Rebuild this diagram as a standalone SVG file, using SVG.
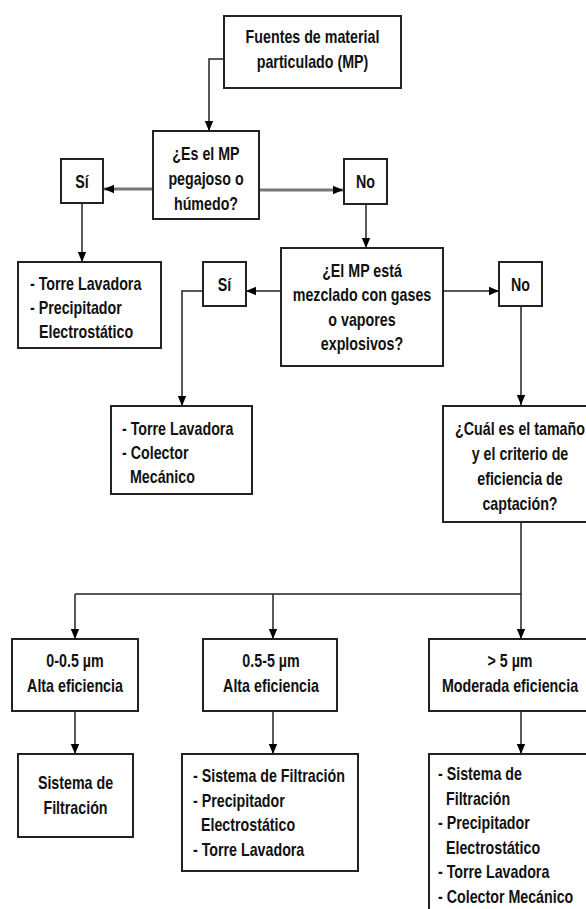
<svg xmlns="http://www.w3.org/2000/svg" width="586" height="909" viewBox="0 0 586 909">
<style>
.box{fill:#fff;stroke:#222;stroke-width:2}
.t{font-family:"Liberation Sans",Arial,sans-serif;font-size:19px;font-weight:bold;fill:#111}
.c{text-anchor:middle}
.ln{fill:none;stroke:#222;stroke-width:1.5}
.gl{fill:none;stroke:#777;stroke-width:3}
</style>
<defs>
<marker id="ah" markerUnits="userSpaceOnUse" markerWidth="10" markerHeight="10" viewBox="0 0 10 10" refX="10" refY="5" orient="auto">
<path d="M0,0.8 L10,5 L0,9.2 Z" fill="#000"/>
</marker>
</defs>
<rect width="586" height="909" fill="#fff"/>
<g id="connectors">
<path class="ln" d="M224,59 H209 V131" marker-end="url(#ah)"/>
<path class="gl" d="M153,189 H104" marker-end="url(#ah)"/>
<path class="gl" d="M259,190 H343" marker-end="url(#ah)"/>
<path class="ln" d="M82,203 V262" marker-end="url(#ah)"/>
<path class="ln" d="M366,204 V248" marker-end="url(#ah)"/>
<path class="ln" d="M281,291 H246" marker-end="url(#ah)"/>
<path class="ln" d="M443,291 H499" marker-end="url(#ah)"/>
<path class="ln" d="M203,291 H182 V406" marker-end="url(#ah)"/>
<path class="ln" d="M521,306 V405" marker-end="url(#ah)"/>
<path class="ln" d="M521,522 V639" marker-end="url(#ah)"/>
<path class="ln" d="M75,594 H521"/>
<path class="ln" d="M75,594 V639" marker-end="url(#ah)"/>
<path class="ln" d="M273,594 V639" marker-end="url(#ah)"/>
<path class="ln" d="M75,711 V754" marker-end="url(#ah)"/>
<path class="ln" d="M273,711 V754" marker-end="url(#ah)"/>
<path class="ln" d="M521,711 V754" marker-end="url(#ah)"/>
</g>
<g id="fuentes">
<rect class="box" x="224" y="16" width="177" height="72"/>
<g transform="scale(0.75 1)">
<text class="t c" x="416.67" y="43">Fuentes de material</text>
<text class="t c" x="416.67" y="68">particulado (MP)</text>
</g>
</g>
<g id="pegajoso">
<rect class="box" x="153" y="131" width="106" height="88"/>
<g transform="scale(0.75 1)">
<text class="t c" x="274.67" y="160">¿Es el MP</text>
<text class="t c" x="274.67" y="185">pegajoso o</text>
<text class="t c" x="274.67" y="210">húmedo?</text>
</g>
</g>
<g id="si1">
<rect class="box" x="61" y="159" width="42" height="44"/>
<g transform="scale(0.75 1)">
<text class="t c" x="109.33" y="188">Sí</text>
</g>
</g>
<g id="no1">
<rect class="box" x="344" y="159" width="43" height="45"/>
<g transform="scale(0.75 1)">
<text class="t c" x="487.33" y="188">No</text>
</g>
</g>
<g id="res1">
<rect class="box" x="18" y="262" width="143" height="86"/>
<g transform="scale(0.75 1)">
<text class="t" x="40" y="290">- Torre Lavadora</text>
<text class="t" x="40" y="314">- Precipitador</text>
<text class="t" x="52" y="338">Electrostático</text>
</g>
</g>
<g id="mezclado">
<rect class="box" x="281" y="248" width="162" height="118"/>
<g transform="scale(0.75 1)">
<text class="t c" x="482.67" y="277">¿El MP está</text>
<text class="t c" x="482.67" y="301">mezclado con gases</text>
<text class="t c" x="482.67" y="326">o vapores</text>
<text class="t c" x="482.67" y="350">explosivos?</text>
</g>
</g>
<g id="si2">
<rect class="box" x="203" y="262" width="43" height="44"/>
<g transform="scale(0.75 1)">
<text class="t c" x="299.33" y="291">Sí</text>
</g>
</g>
<g id="no2">
<rect class="box" x="499" y="262" width="43" height="44"/>
<g transform="scale(0.75 1)">
<text class="t c" x="694" y="291">No</text>
</g>
</g>
<g id="res2">
<rect class="box" x="111" y="406" width="141" height="88"/>
<g transform="scale(0.75 1)">
<text class="t" x="162.67" y="435">- Torre Lavadora</text>
<text class="t" x="162.67" y="459">- Colector</text>
<text class="t" x="173.33" y="483">Mecánico</text>
</g>
</g>
<g id="tamano">
<rect class="box" x="443" y="406" width="160" height="116"/>
<g transform="scale(0.75 1)">
<text class="t c" x="693.33" y="435">¿Cuál es el tamaño</text>
<text class="t c" x="693.33" y="460">y el criterio de</text>
<text class="t c" x="693.33" y="485">eficiencia de</text>
<text class="t c" x="693.33" y="510">captación?</text>
</g>
</g>
<g id="r005">
<rect class="box" x="12" y="639" width="126" height="72"/>
<g transform="scale(0.75 1)">
<text class="t c" x="100" y="667">0-0.5 µm</text>
<text class="t c" x="100" y="692">Alta eficiencia</text>
</g>
</g>
<g id="r055">
<rect class="box" x="203" y="639" width="134" height="72"/>
<g transform="scale(0.75 1)">
<text class="t c" x="361.33" y="667">0.5-5 µm</text>
<text class="t c" x="361.33" y="692">Alta eficiencia</text>
</g>
</g>
<g id="r5">
<rect class="box" x="429" y="639" width="162" height="72"/>
<g transform="scale(0.75 1)">
<text class="t c" x="680" y="667">&gt; 5 µm</text>
<text class="t c" x="680" y="692">Moderada eficiencia</text>
</g>
</g>
<g id="f1">
<rect class="box" x="18" y="754" width="115" height="83"/>
<g transform="scale(0.75 1)">
<text class="t c" x="100.67" y="789">Sistema de</text>
<text class="t c" x="100.67" y="814">Filtración</text>
</g>
</g>
<g id="f2">
<rect class="box" x="182" y="754" width="176" height="117"/>
<g transform="scale(0.75 1)">
<text class="t" x="257.33" y="782">- Sistema de Filtración</text>
<text class="t" x="257.33" y="807">- Precipitador</text>
<text class="t" x="268" y="831">Electrostático</text>
<text class="t" x="257.33" y="856">- Torre Lavadora</text>
</g>
</g>
<g id="f3">
<rect class="box" x="429" y="754" width="162" height="170"/>
<g transform="scale(0.75 1)">
<text class="t" x="584" y="780">- Sistema de</text>
<text class="t" x="594.67" y="805">Filtración</text>
<text class="t" x="584" y="829">- Precipitador</text>
<text class="t" x="594.67" y="854">Electrostático</text>
<text class="t" x="584" y="878">- Torre Lavadora</text>
<text class="t" x="584" y="903">- Colector Mecánico</text>
</g>
</g>
</svg>
